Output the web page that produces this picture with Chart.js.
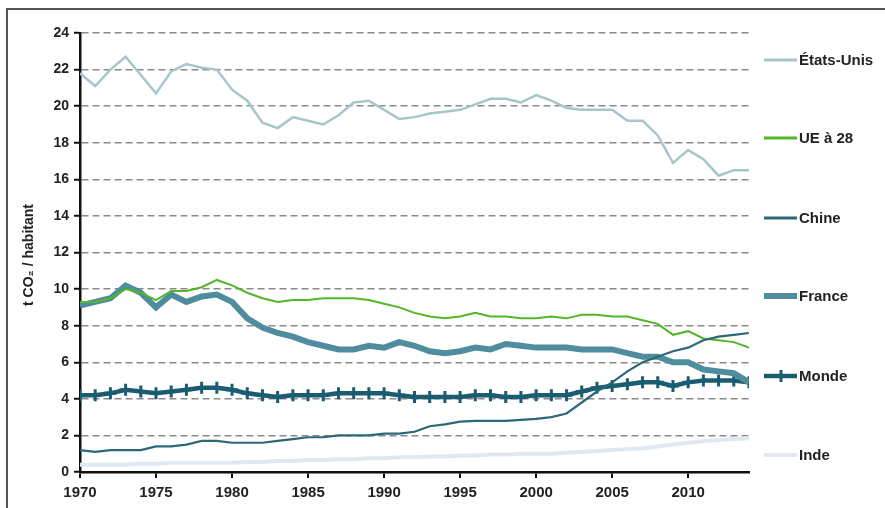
<!DOCTYPE html>
<html>
<head>
<meta charset="utf-8">
<script src="https://cdn.jsdelivr.net/npm/chart.js@4"></script>
<style>
  html, body { margin: 0; padding: 0; background: #fff; }
  canvas { display: block; }
</style>
</head>
<body>
<canvas id="myChart" width="885" height="508"></canvas>
<script>
// Data (t CO2 / habitant), 1970 - 2014

const years = [];
for (let y = 1970; y <= 2014; y++) years.push(y);

const etatsUnis = [21.8, 21.1, 22.0, 22.7, 21.7, 20.7, 21.9, 22.3, 22.1, 22.0,
  20.9, 20.3, 19.1, 18.8, 19.4, 19.2, 19.0, 19.5, 20.2, 20.3,
  19.8, 19.3, 19.4, 19.6, 19.7, 19.8, 20.1, 20.4, 20.4, 20.2,
  20.6, 20.3, 19.9, 19.8, 19.8, 19.8, 19.2, 19.2, 18.4, 16.9,
  17.6, 17.1, 16.2, 16.5, 16.5];

const ue28 = [9.3, 9.3, 9.5, 10.0, 9.8, 9.4, 9.9, 9.9, 10.1, 10.5,
  10.2, 9.8, 9.5, 9.3, 9.4, 9.4, 9.5, 9.5, 9.5, 9.4,
  9.2, 9.0, 8.7, 8.5, 8.4, 8.5, 8.7, 8.5, 8.5, 8.4,
  8.4, 8.5, 8.4, 8.6, 8.6, 8.5, 8.5, 8.3, 8.1, 7.5,
  7.7, 7.3, 7.2, 7.1, 6.8];

const chine = [1.2, 1.1, 1.2, 1.2, 1.2, 1.4, 1.4, 1.5, 1.7, 1.7,
  1.6, 1.6, 1.6, 1.7, 1.8, 1.9, 1.9, 2.0, 2.0, 2.0,
  2.1, 2.1, 2.2, 2.5, 2.6, 2.75, 2.8, 2.8, 2.8, 2.85,
  2.9, 3.0, 3.2, 3.8, 4.4, 4.9, 5.5, 6.0, 6.3, 6.6,
  6.8, 7.2, 7.4, 7.5, 7.6];

const france = [9.1, 9.3, 9.5, 10.2, 9.8, 9.0, 9.7, 9.3, 9.6, 9.7,
  9.3, 8.4, 7.9, 7.6, 7.4, 7.1, 6.9, 6.7, 6.7, 6.9,
  6.8, 7.1, 6.9, 6.6, 6.5, 6.6, 6.8, 6.7, 7.0, 6.9,
  6.8, 6.8, 6.8, 6.7, 6.7, 6.7, 6.5, 6.3, 6.3, 6.0,
  6.0, 5.6, 5.5, 5.4, 4.9];

const monde = [4.2, 4.2, 4.3, 4.5, 4.4, 4.3, 4.4, 4.5, 4.6, 4.6,
  4.5, 4.3, 4.2, 4.1, 4.2, 4.2, 4.2, 4.3, 4.3, 4.3,
  4.3, 4.2, 4.1, 4.1, 4.1, 4.1, 4.2, 4.2, 4.1, 4.1,
  4.2, 4.2, 4.2, 4.4, 4.6, 4.7, 4.8, 4.9, 4.9, 4.7,
  4.9, 5.0, 5.0, 5.0, 4.9];

const inde = [0.4, 0.4, 0.4, 0.4, 0.45, 0.45, 0.5, 0.5, 0.5, 0.5,
  0.5, 0.55, 0.55, 0.6, 0.6, 0.65, 0.65, 0.7, 0.7, 0.75,
  0.75, 0.8, 0.8, 0.85, 0.85, 0.9, 0.9, 0.95, 0.95, 1.0,
  1.0, 1.0, 1.05, 1.1, 1.15, 1.2, 1.25, 1.3, 1.4, 1.5,
  1.6, 1.7, 1.75, 1.8, 1.85];

const yTicks = [0, 2, 4, 6, 8, 10, 12, 14, 16, 18, 20, 22, 24];
const xTicks = [1970, 1975, 1980, 1985, 1990, 1995, 2000, 2005, 2010];

// Series styles

const series = [
  { label: "États-Unis", data: etatsUnis, color: "#a6c6ca", width: 2.5, legendY: 60 },
  { label: "UE à 28", data: ue28, color: "#55b52a", width: 2, legendY: 138 },
  { label: "Chine", data: chine, color: "#2b6878", width: 2.2, legendY: 218 },
  { label: "France", data: france, color: "#4f8c9d", width: 6, legendY: 296 },
  { label: "Monde", data: monde, color: "#1b5d70", width: 4.5, legendY: 376, marker: true },
  { label: "Inde", data: inde, color: "#dfeaf0", width: 4, legendY: 455 },
];

function toPoints(values) {
  return values.map((v, i) => ({ x: years[i], y: v }));
}

const datasets = [];
// draw order: light ones behind
[5, 2, 0, 1, 3, 4].forEach(i => {
  const s = series[i];
  datasets.push({
    label: s.label,
    data: toPoints(s.data),
    borderColor: s.color,
    backgroundColor: s.color,
    borderWidth: s.width,
    pointRadius: s.marker ? 6 : 0,
    pointStyle: s.marker ? "cross" : "circle",
    pointBorderWidth: s.marker ? 3 : 0,
    pointBorderColor: s.color,
    tension: 0,
    fill: false,
  });
});

const fontFamily = "'Liberation Sans', Arial, sans-serif";

// Custom drawing: frame, y title, legend

const decorations = {
  id: "decorations",
  beforeDraw(chart) {
    const ctx = chart.ctx;
    ctx.save();
    ctx.strokeStyle = "#555";
    ctx.lineWidth = 2;
    ctx.beginPath();
    ctx.moveTo(7, 508);
    ctx.lineTo(7, 9);
    ctx.lineTo(885, 9);
    ctx.stroke();
    ctx.restore();
  },
  afterDraw(chart) {
    const ctx = chart.ctx;
    ctx.save();
    // y axis title
    ctx.translate(29, 255);
    ctx.rotate(-Math.PI / 2);
    ctx.fillStyle = "#222";
    ctx.font = "bold 14px " + fontFamily;
    ctx.textAlign = "center";
    ctx.textBaseline = "middle";
    ctx.fillText("t CO\u2082 / habitant", 0, 0);
    ctx.restore();

    // legend
    ctx.save();
    ctx.font = "bold 15px " + fontFamily;
    ctx.textBaseline = "middle";
    ctx.textAlign = "left";
    series.forEach(s => {
      const y = s.legendY;
      ctx.strokeStyle = s.color;
      ctx.lineWidth = Math.max(s.width, 3);
      ctx.beginPath();
      ctx.moveTo(764, y);
      ctx.lineTo(797, y);
      ctx.stroke();
      if (s.marker) {
        ctx.lineWidth = 3;
        ctx.beginPath();
        ctx.moveTo(781, y - 6);
        ctx.lineTo(781, y + 6);
        ctx.stroke();
      }
      ctx.fillStyle = "#222";
      ctx.fillText(s.label, 799, y + 1);
    });
    ctx.restore();
  },
};

const ctx = document.getElementById("myChart").getContext("2d");
const chart = new Chart(ctx, {
  type: "line",
  data: { datasets: datasets },
  options: {
    responsive: false,
    animation: false,
    layout: { padding: { left: 0, top: 33, right: 136, bottom: 0 } },
    plugins: {
      legend: { display: false },
      tooltip: { enabled: false },
    },
    scales: {
      x: {
        type: "linear",
        min: 1970,
        max: 2014,
        afterBuildTicks: scale => {
          scale.ticks = xTicks.map(v => ({ value: v }));
        },
        afterFit: scale => { scale.height = 36; },
        ticks: {
          color: "#222",
          font: { family: fontFamily, size: 15, weight: "bold" },
          padding: 6,
          maxRotation: 0,
          callback: v => String(v),
        },
        grid: {
          drawOnChartArea: false,
          tickLength: 6,
          tickColor: "#111",
          lineWidth: 2,
        },
        border: { color: "#111", width: 2.5 },
      },
      y: {
        min: 0,
        max: 24,
        afterBuildTicks: scale => {
          scale.ticks = yTicks.map(v => ({ value: v }));
        },
        afterFit: scale => { scale.width = 80; },
        ticks: {
          color: "#222",
          font: { family: fontFamily, size: 14, weight: "bold" },
          padding: 5,
        },
        grid: {
          color: c => (c.tick && c.tick.value === 0 ? "rgba(0,0,0,0)" : "#8a8a8a"),
          lineWidth: 1.5,
          tickLength: 6,
          tickColor: "#111",
          tickWidth: 2,
        },
        border: { color: "#111", width: 2.5, dash: [7, 4] },
      },
    },
  },
  plugins: [decorations],
});
</script>
</body>
</html>
